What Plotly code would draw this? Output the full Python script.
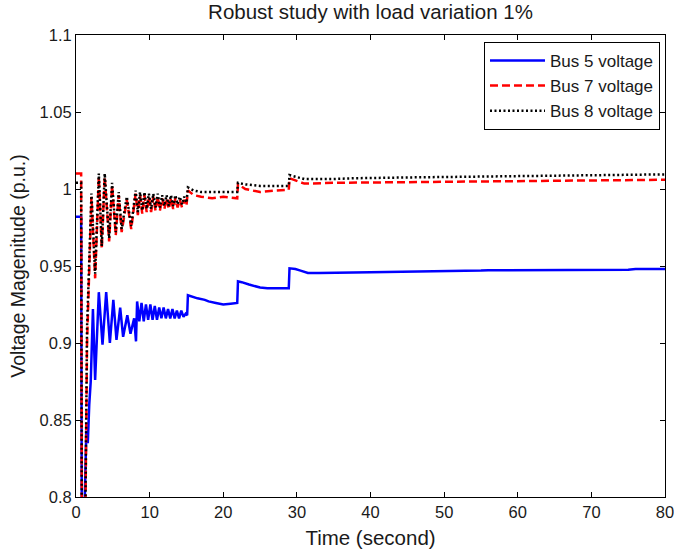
import plotly.graph_objects as go

# ---------------- data ----------------
t_bus5 = [0, 0.7, 0.8, 1.2, 1.4, 1.6, 1.8, 2.0, 2.3, 2.6, 3.1, 3.6, 4.1, 4.6, 5.07, 5.5, 6.0, 6.4, 6.97, 7.4, 7.9, 8.15, 8.3,
          8.6, 8.9, 9.2, 9.5, 9.8, 10.1, 10.4, 10.7, 11.0, 11.3, 11.6, 11.9, 12.2, 12.5, 12.8, 13.1, 13.4, 13.7, 14.0, 14.3,
          14.6, 14.9, 15.1, 15.2, 15.8, 16.5, 17.5, 18, 19, 20, 21, 21.9, 22.0, 22.5, 23.5, 25, 26, 28.9, 29.0, 29.8,
          30.5, 31.5, 33, 37, 40, 55, 56, 75, 76, 80]
v_bus5 = [0.982, 0.982, 0.75, 0.80, 0.843, 0.835, 0.86, 0.875, 0.922, 0.876, 0.933, 0.899, 0.933, 0.900, 0.928, 0.902, 0.923,
          0.904, 0.918, 0.906, 0.916, 0.901, 0.927,
          0.914, 0.926, 0.914, 0.925, 0.915, 0.925, 0.915, 0.924, 0.915, 0.923, 0.916, 0.923, 0.916, 0.922, 0.916, 0.922,
          0.916, 0.921, 0.916, 0.921, 0.917, 0.919, 0.918, 0.931, 0.930, 0.929, 0.928, 0.927, 0.926, 0.925, 0.9255, 0.926,
          0.940, 0.9395, 0.938, 0.936, 0.9355, 0.9355, 0.9485, 0.948, 0.947, 0.9455, 0.9455, 0.946, 0.946, 0.947, 0.9472,
          0.9475, 0.948, 0.948]

t_bus7 = [0, 0.7, 0.8, 1.2, 1.5, 1.8, 2.1, 2.6, 3.1, 3.5, 3.9, 4.5, 4.9, 5.4, 5.8, 6.2, 6.9, 7.5, 8.1,
          8.4, 8.7, 9.0, 9.3, 9.6, 9.9, 10.2, 10.5, 10.8, 11.1, 11.4, 11.7, 12.0, 12.3, 12.6, 12.9, 13.2, 13.5, 13.8,
          14.1, 14.4, 14.7, 15.0, 15.2, 16.0, 17.0, 18.5, 20.0, 21.9, 22.0, 23.0, 25.0, 27.0, 28.9, 29.0, 30.0, 31.0,
          35.0, 45.0, 56.0, 70.0, 76.0, 80.0]
v_bus7 = [1.010, 1.010, 0.75, 0.75, 0.90, 0.955, 0.995, 0.942, 1.008, 0.961, 1.008, 0.966, 1.002, 0.970, 0.996, 0.972,
          0.993, 0.974, 0.997,
          0.983, 0.996, 0.984, 0.996, 0.985, 0.995, 0.985, 0.995, 0.986, 0.995, 0.986, 0.994, 0.987, 0.994, 0.987,
          0.994, 0.987, 0.994, 0.988, 0.993, 0.988, 0.993, 0.989, 0.999, 0.996, 0.995, 0.994, 0.995, 0.994, 1.003,
          1.000, 0.998, 0.999, 0.9995, 1.007, 1.005, 1.0035, 1.004, 1.0045, 1.005, 1.0055, 1.006, 1.006]

t_bus8 = [0, 0.7, 0.8, 1.2, 1.5, 1.8, 2.1, 2.6, 3.1, 3.5, 3.9, 4.5, 4.9, 5.4, 5.8, 6.2, 6.9, 7.5, 8.1,
          8.4, 8.7, 9.0, 9.3, 9.6, 9.9, 10.2, 10.5, 10.8, 11.1, 11.4, 11.7, 12.0, 12.3, 12.6, 12.9, 13.2, 13.5, 13.8,
          14.1, 14.4, 14.7, 15.0, 15.2, 16.0, 17.0, 18.5, 20.0, 21.9, 22.0, 23.0, 25.0, 27.0, 28.9, 29.0, 30.0, 31.0,
          35.0, 38.0, 45.0, 56.0, 65.0, 76.0, 80.0]
v_bus8 = [1.004, 1.004, 0.75, 0.75, 0.91, 0.958, 0.997, 0.945, 1.010, 0.963, 1.010, 0.968, 1.004, 0.972, 0.998, 0.974,
          0.995, 0.976, 0.999,
          0.985, 0.998, 0.986, 0.998, 0.987, 0.997, 0.987, 0.997, 0.988, 0.997, 0.988, 0.996, 0.989, 0.996, 0.989,
          0.996, 0.989, 0.996, 0.990, 0.995, 0.990, 0.995, 0.991, 1.001, 0.999, 0.998, 0.998, 0.998, 0.998, 1.004,
          1.003, 1.002, 1.002, 1.002, 1.009, 1.0075, 1.0065, 1.0065, 1.007, 1.0075, 1.008, 1.0085, 1.009, 1.0095]

x_ticks = [0, 10, 20, 30, 40, 50, 60, 70, 80]
y_ticks = [0.8, 0.85, 0.9, 0.95, 1.0, 1.05, 1.1]
y_tick_text = ["0.8", "0.85", "0.9", "0.95", "1", "1.05", "1.1"]

# ---------------- figure ----------------
fig = go.Figure()
fig.add_trace(go.Scatter(x=t_bus5, y=v_bus5, mode="lines", name="Bus 5 voltage",
                         line=dict(color="#0000ff", width=2.5)))
fig.add_trace(go.Scatter(x=t_bus7, y=v_bus7, mode="lines", name="Bus 7 voltage",
                         line=dict(color="#ff0000", width=2.5, dash="8px,4px")))
fig.add_trace(go.Scatter(x=t_bus8, y=v_bus8, mode="lines", name="Bus 8 voltage",
                         line=dict(color="#000000", width=2.5, dash="2px,2.5px")))

axis_common = dict(showgrid=False, zeroline=False, showline=True, linecolor="black", linewidth=1,
                   mirror="ticks", ticks="inside", ticklen=5, tickcolor="black", automargin=False,
                   ticklabeloverflow="allow",
                   tickfont=dict(family="Arial, Liberation Sans", size=16.5, color="#1a1a1a"))

fig.update_layout(
    width=674, height=554,
    margin=dict(l=76, r=9, t=35, b=57, autoexpand=False),
    paper_bgcolor="white", plot_bgcolor="white",
    font=dict(family="Arial, Liberation Sans", color="#1a1a1a"),
    title=dict(text="Robust study with load variation 1%", x=(76 + 665) / 2 / 674, xanchor="center",
               y=1 - 12 / 554, yanchor="middle", font=dict(size=20.5)),
    xaxis=dict(range=[0, 80], tickvals=x_ticks, title=dict(text="Time (second)", font=dict(size=20.5), standoff=10),
               **axis_common),
    yaxis=dict(range=[0.8, 1.1], tickvals=y_ticks, ticktext=y_tick_text,
               title=dict(text="Voltage Magenitude (p.u.)", font=dict(size=19.5), standoff=8), **axis_common),
    legend=dict(x=0.9915, y=0.985, xanchor="right", yanchor="top", bgcolor="white",
                bordercolor="black", borderwidth=1, font=dict(size=17), tracegroupgap=0, itemwidth=55),
    showlegend=True,
)

fig.write_html("out.html")
